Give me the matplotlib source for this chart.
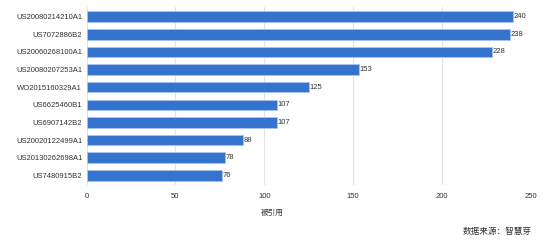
import matplotlib.pyplot as plt

plt.rcParams['font.family'] = ['Liberation Sans', 'Noto Sans CJK SC', 'DejaVu Sans']

# données
brevets = ["US20080214210A1", "US7072886B2", "US20060268100A1", "US20080207253A1",
           "WO2015160329A1", "US6625460B1", "US6907142B2", "US20020122499A1",
           "US20130262698A1", "US7480915B2"]
citations = [240, 238, 228, 153, 125, 107, 107, 88, 78, 76]
graduations = [0, 50, 100, 150, 200, 250]

fig = plt.figure(figsize=(5.54, 2.47), dpi=100)
ax = fig.add_axes([86.5 / 554, 1 - 185 / 247, 444.5 / 554, 178 / 247])

pos = list(range(len(brevets)))[::-1]
ax.barh(pos, citations, height=0.6, color="#3574ce", edgecolor="#a9c4ec", linewidth=0.6, zorder=3)
for p, v in zip(pos, citations):
    ax.text(v + 0.3, p, str(v), va="center", ha="left", fontsize=5.5, color="#333333")

ax.set_xlim(0, 250)
ax.set_ylim(-0.55, len(brevets) - 0.45)
ax.set_xticks(graduations)
ax.set_yticks(pos)
ax.set_yticklabels(brevets)
ax.tick_params(axis="both", length=0, labelsize=5.5, colors="#333333")
ax.tick_params(axis="x", pad=6)
ax.tick_params(axis="y", pad=3)
ax.grid(axis="x", color="#e3e3e3", linewidth=0.8, zorder=0)
for s in ax.spines.values():
    s.set_visible(False)
ax.axhline(-0.55, color="#eeeeee", linewidth=0.8, zorder=1)

fig.text(272 / 554, 1 - 213 / 247, "被引用", ha="center", va="center", fontsize=5.5, color="#333333")
fig.text(532 / 554, 1 - 231 / 247, "数据来源：智慧芽", ha="right", va="center", fontsize=6.2, color="#333333")

fig.savefig("out.png", dpi=100)
